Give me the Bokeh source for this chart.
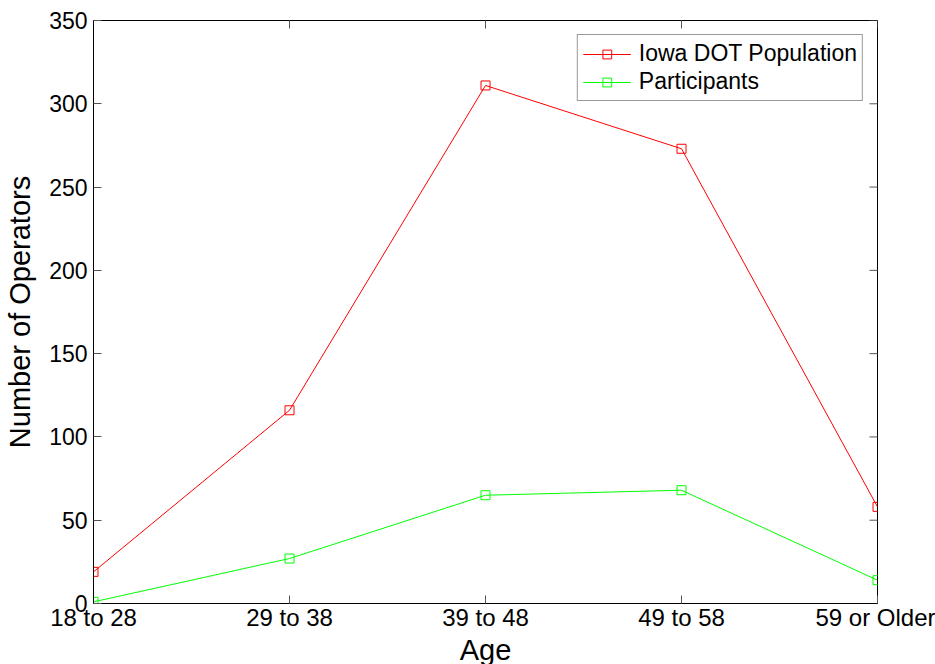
import math
from bokeh.plotting import figure
from bokeh.models import (FixedTicker, Range1d, Legend, LegendItem, ColumnDataSource)
from bokeh.embed import file_html
from bokeh.resources import INLINE

# ---- data ----
age_groups = ["18 to 28", "29 to 38", "39 to 48", "49 to 58", "59 or Older"]
iowa_dot_population = [19, 116, 311, 273, 58]
participants = [1, 27, 65, 68, 14]
y_ticks = [0, 50, 100, 150, 200, 250, 300, 350]

x_pos = list(range(1, len(age_groups) + 1))
FONT = "Liberation Sans"
Y_MAX = 350
TICK_COLOR = "#555555"

p = figure(frame_width=784, frame_height=583,
           min_border_left=93, min_border_right=58, min_border_top=20,
           min_border_bottom=0,
           x_range=Range1d(1, len(age_groups)), y_range=Range1d(0, Y_MAX),
           output_backend="svg", toolbar_location=None,
           background_fill_color="white", border_fill_color="white")
p.xgrid.visible = False
p.ygrid.visible = False
p.outline_line_color = "black"

src_a = ColumnDataSource(dict(x=x_pos, y=iowa_dot_population))
src_b = ColumnDataSource(dict(x=x_pos, y=participants))

la = p.line("x", "y", source=src_a, line_color="#ff0000", line_width=1)
ma = p.scatter("x", "y", source=src_a, marker="square", size=9,
               line_color="#ff0000", fill_color=None, line_width=1)
lb = p.line("x", "y", source=src_b, line_color="#00ff00", line_width=1)
mb = p.scatter("x", "y", source=src_b, marker="square", size=9,
               line_color="#00ff00", fill_color=None, line_width=1)

# mirrored inward ticks on the top and right edges (MATLAB box style);
# half of each dash falls outside the frame and is clipped
p.scatter(x=x_pos, y=[Y_MAX] * len(x_pos), marker="dash", angle=math.pi / 2,
          size=16, line_color=TICK_COLOR, line_width=1)
p.scatter(x=[len(age_groups)] * len(y_ticks), y=y_ticks, marker="dash",
          size=16, line_color=TICK_COLOR, line_width=1)

# axes
p.xaxis.ticker = FixedTicker(ticks=x_pos)
p.xaxis.major_label_overrides = {x: lab for x, lab in zip(x_pos, age_groups)}
p.yaxis.ticker = FixedTicker(ticks=y_ticks)

for ax in [p.xaxis[0], p.yaxis[0]]:
    ax.major_tick_in = 8
    ax.major_tick_out = 0
    ax.minor_tick_line_color = None
    ax.axis_line_color = "black"
    ax.major_tick_line_color = TICK_COLOR
    ax.major_label_text_font = FONT
    ax.major_label_text_font_size = "23px"
    ax.major_label_text_color = "black"
    ax.axis_label_text_font = FONT
    ax.axis_label_text_font_size = "29px"
    ax.axis_label_text_font_style = "normal"
    ax.axis_label_text_color = "black"

p.xaxis.axis_label = "Age"
p.xaxis.major_label_text_font_size = "24px"
p.xaxis.major_label_standoff = 0
p.xaxis.axis_label_standoff = 0
p.yaxis.axis_label = "Number of Operators"
p.yaxis.major_label_standoff = 6
p.yaxis.axis_label_standoff = 10

legend = Legend(items=[LegendItem(label="Iowa DOT Population", renderers=[la, ma]),
                       LegendItem(label="Participants", renderers=[lb, mb])],
                location="top_right")
legend.margin = 14
legend.padding = 5
legend.spacing = 1
legend.glyph_width = 48
legend.glyph_height = 22
legend.label_height = 22
legend.label_standoff = 8
legend.label_text_font = FONT
legend.label_text_font_size = "23px"
legend.label_text_color = "black"
legend.border_line_color = "#333333"
legend.border_line_width = 1
legend.background_fill_color = "white"
legend.background_fill_alpha = 1
p.add_layout(legend)

open("out.html", "w").write(file_html(p, INLINE))
